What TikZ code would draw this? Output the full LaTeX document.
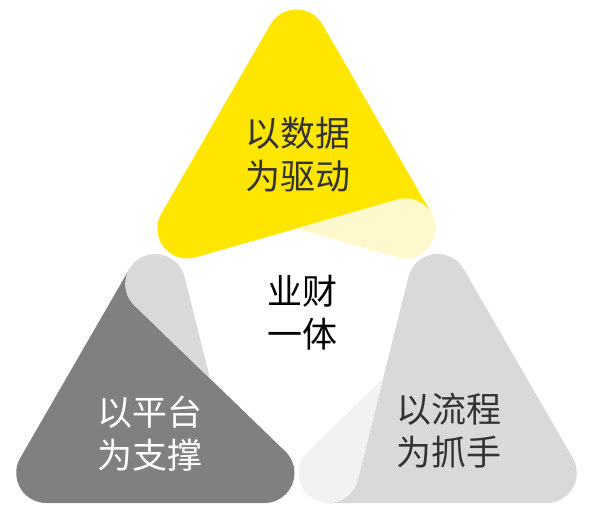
\documentclass[tikz,border=0pt]{standalone}
\usepackage{fontspec}
\newfontfamily\cjk{Noto Sans CJK SC}
\definecolor{petalyellow}{HTML}{FFE600}
\definecolor{flapyellow}{HTML}{FFF8CC}
\definecolor{petaldark}{HTML}{808080}
\definecolor{flapdark}{HTML}{D9D9D9}
\definecolor{petallight}{HTML}{D9D9D9}
\definecolor{flaplight}{HTML}{F2F2F2}
\definecolor{inktext}{HTML}{333333}
\tikzset{
  pics/petal/.style 2 args={code={
    % body: corners at 90, 210, 330 deg, folded at the 330 deg corner
    \fill[#1] ({\crad*cos(30)},{\prad+\crad*sin(30)})
      arc[start angle=30,end angle=150,radius=\crad]
      -- ({\prad*cos(210)+\crad*cos(150)},{\prad*sin(210)+\crad*sin(150)})
      arc[start angle=150,end angle=270+\tilt,radius=\crad]
      -- ({\prad*cos(330)+\crad*cos(90+\tilt)},{\prad*sin(330)+\crad*sin(90+\tilt)})
      arc[start angle=90+\tilt,end angle=30,radius=\crad] -- cycle;
    % flap
    \fill[#2] (0,{-\prad/2})
      -- ({\prad*cos(330)+\crad*cos(90+\tilt)},{\prad*sin(330)+\crad*sin(90+\tilt)})
      arc[start angle=90+\tilt,end angle=-90-\tilt,radius=\crad] -- cycle;
  }},
  petaltext/.style={font=\cjk\fontsize{35}{43}\selectfont, align=center, inner sep=0pt}
}
\begin{document}
\begin{tikzpicture}[x=1pt,y=1pt]
 \def \prad{126}\def \crad{30}
 \pgfmathsetmacro\tilt{asin(\crad/(\prad*sqrt(3)/2))}
 \useasboundingbox (0,0) rectangle (591,523);
 \coordinate (mid) at (296.5,194.5);
 \coordinate (Y) at ([shift={(90:163)}]mid);
 \coordinate (D) at ([shift={(210:163)}]mid);
 \coordinate (G) at ([shift={(330:163)}]mid);
 \pic[rotate=-120] at (G) {petal={petallight}{flaplight}};
 \pic[rotate=120] at (D) {petal={petaldark}{flapdark}};
 \pic at (Y) {petal={petalyellow}{flapyellow}};
 \node[petaltext,text=inktext] (drive) at (298,368) {以数据\\为驱动};
 \node[petaltext,text=white] (platform) at (150,89) {以平台\\为支撑};
 \node[petaltext,text=inktext] (process) at (449,92) {以流程\\为抓手};
 \node[petaltext,text=black] (unity) at (302,210) {业财\\一体};
\end{tikzpicture}
\end{document}
